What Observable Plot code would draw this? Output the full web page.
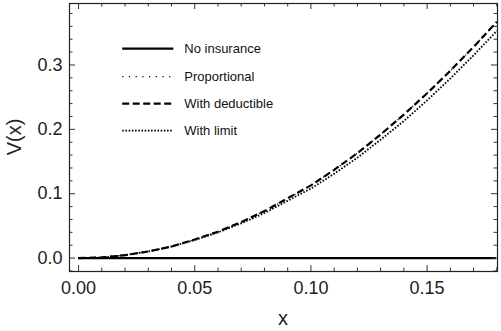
<!DOCTYPE html>
<html>
<head>
<meta charset="utf-8">
<script src="https://cdn.jsdelivr.net/npm/d3@7"></script>
<script src="https://cdn.jsdelivr.net/npm/@observablehq/plot@0.6"></script>
<style>
  html, body { margin: 0; padding: 0; background: #fff; }
  #chart svg { display: block; }
</style>
</head>
<body>
<div id="chart"></div>
<script>
// ---- data ----
const xs = [0, 0.01, 0.02, 0.03, 0.04, 0.05, 0.06, 0.07, 0.08, 0.09, 0.10, 0.11, 0.12, 0.13, 0.14, 0.15, 0.16, 0.17, 0.18];
const noInsurance = [0, 0, 0, 0, 0, 0, 0, 0, 0, 0, 0, 0, 0, 0, 0, 0, 0, 0, 0];
const proportional = [0, 0.001, 0.0045, 0.0103, 0.018, 0.029, 0.041, 0.056, 0.073, 0.093, 0.113, 0.137, 0.163, 0.192, 0.223, 0.256, 0.291, 0.328, 0.367];
const withDeductible = [0, 0.001, 0.0045, 0.0103, 0.018, 0.029, 0.041, 0.056, 0.073, 0.093, 0.113, 0.137, 0.163, 0.192, 0.223, 0.256, 0.291, 0.328, 0.367];
const withLimit = [0, 0.001, 0.0045, 0.0103, 0.018, 0.028, 0.040, 0.054, 0.070, 0.089, 0.108, 0.131, 0.156, 0.184, 0.213, 0.245, 0.279, 0.315, 0.353];
const seriesNames = ["No insurance", "Proportional", "With deductible", "With limit"];
const xMajor = [0, 0.05, 0.10, 0.15];
const xMajorLabels = ["0.00", "0.05", "0.10", "0.15"];
const xMinor = [0.01, 0.02, 0.03, 0.04, 0.06, 0.07, 0.08, 0.09, 0.11, 0.12, 0.13, 0.14, 0.16, 0.17, 0.18];
const yMajor = [0, 0.1, 0.2, 0.3];
const yMajorLabels = ["0.0", "0.1", "0.2", "0.3"];
const yMinor = [-0.02, 0.02, 0.04, 0.06, 0.08, 0.12, 0.14, 0.16, 0.18, 0.22, 0.24, 0.26, 0.28, 0.32, 0.34, 0.36, 0.38];

// ---- styles ----
const styles = {
  "No insurance":    {strokeWidth: 2.2, strokeDasharray: null, strokeLinecap: "butt"},
  "Proportional":    {strokeWidth: 1.2, strokeDasharray: "1.2,5.5", strokeLinecap: "butt"},
  "With deductible": {strokeWidth: 2.2, strokeDasharray: "7,3.5", strokeLinecap: "butt"},
  "With limit":      {strokeWidth: 1.8, strokeDasharray: "1.6,1.6", strokeLinecap: "butt"}
};
const seriesValues = [noInsurance, proportional, withDeductible, withLimit];

const xDomain = [-0.0039, 0.1803];
const yDomain = [-0.0208, 0.3955];
const W = 501, H = 331;
const mL = 69, mR = 4, mT = 3, mB = 60;
const pxPerY = (H - mT - mB) / (yDomain[1] - yDomain[0]);
const pxPerX = (W - mL - mR) / (xDomain[1] - xDomain[0]);
const majorLen = 6, minorLen = 3.5;

const marks = [];
// curves
seriesNames.forEach((name, i) => {
  const data = xs.map((x, j) => ({x, v: seriesValues[i][j]}));
  const s = styles[name];
  const opts = {x: "x", y: "v", stroke: "#000", strokeWidth: s.strokeWidth, strokeLinecap: s.strokeLinecap};
  if (s.strokeDasharray) opts.strokeDasharray = s.strokeDasharray;
  if (name === "No insurance") {
    marks.push(Plot.ruleY([0], {x1: xs[0], x2: xDomain[1] - 0.0005, stroke: "#000", strokeWidth: s.strokeWidth}));
  } else {
    marks.push(Plot.line(data, opts));
  }
});

// frame ticks (inward)
const yLo = yDomain[0], yHi = yDomain[1], xLo = xDomain[0], xHi = xDomain[1];
const tickStyle = {stroke: "#333", strokeWidth: 1};
const dyMaj = majorLen / pxPerY, dyMin = minorLen / pxPerY;
const dxMaj = majorLen / pxPerX, dxMin = minorLen / pxPerX;
marks.push(Plot.ruleX(xMajor, {y1: yLo, y2: yLo + dyMaj, ...tickStyle}));
marks.push(Plot.ruleX(xMinor, {y1: yLo, y2: yLo + dyMin, ...tickStyle}));
marks.push(Plot.ruleX(xMajor, {y1: yHi, y2: yHi - dyMaj, ...tickStyle}));
marks.push(Plot.ruleX(xMinor, {y1: yHi, y2: yHi - dyMin, ...tickStyle}));
marks.push(Plot.ruleY(yMajor, {x1: xLo, x2: xLo + dxMaj, ...tickStyle}));
marks.push(Plot.ruleY(yMinor, {x1: xLo, x2: xLo + dxMin, ...tickStyle}));
marks.push(Plot.ruleY(yMajor, {x1: xHi, x2: xHi - dxMaj, ...tickStyle}));
marks.push(Plot.ruleY(yMinor, {x1: xHi, x2: xHi - dxMin, ...tickStyle}));

// tick labels
marks.push(Plot.axisX(xMajor, {tickSize: 0, tickPadding: 10, tickFormat: (d, i) => xMajorLabels[i], fontSize: 18, fill: "#222", label: null}));
marks.push(Plot.axisY(yMajor, {tickSize: 0, tickPadding: 7, tickFormat: (d, i) => yMajorLabels[i], fontSize: 18, fill: "#222", label: null}));

// legend (inside plot, in data coordinates)
const legX1 = 0.0190, legX2 = 0.0410, legTX = 0.0455;
const legY = [0.3255, 0.2820, 0.2400, 0.1980];
seriesNames.forEach((name, i) => {
  const s = styles[name];
  const o = {x1: legX1, x2: legX2, stroke: "#000", strokeWidth: s.strokeWidth};
  if (s.strokeDasharray) o.strokeDasharray = s.strokeDasharray;
  marks.push(Plot.ruleY([legY[i]], o));
  marks.push(Plot.text([name], {x: legTX, y: legY[i], text: d => d, textAnchor: "start", fontSize: 13, fill: "#111"}));
});

marks.push(Plot.frame({stroke: "#222", strokeWidth: 1.2}));

const chart = Plot.plot({
  width: W, height: H,
  marginLeft: mL, marginRight: mR, marginTop: mT, marginBottom: mB,
  style: {fontFamily: "'Liberation Sans', Arial, sans-serif", background: "#fff", overflow: "visible"},
  x: {domain: xDomain, axis: null},
  y: {domain: yDomain, axis: null},
  marks
});

// axis titles
const svg = d3.select(chart);
svg.append("text").attr("x", 283).attr("y", 325).attr("text-anchor", "middle")
  .attr("font-size", 20).attr("fill", "#222").text("x");
svg.append("text").attr("transform", "translate(21,137) rotate(-90)").attr("text-anchor", "middle")
  .attr("font-size", 20).attr("fill", "#222").text("V(x)");

document.getElementById("chart").appendChild(chart);
</script>
</body>
</html>
